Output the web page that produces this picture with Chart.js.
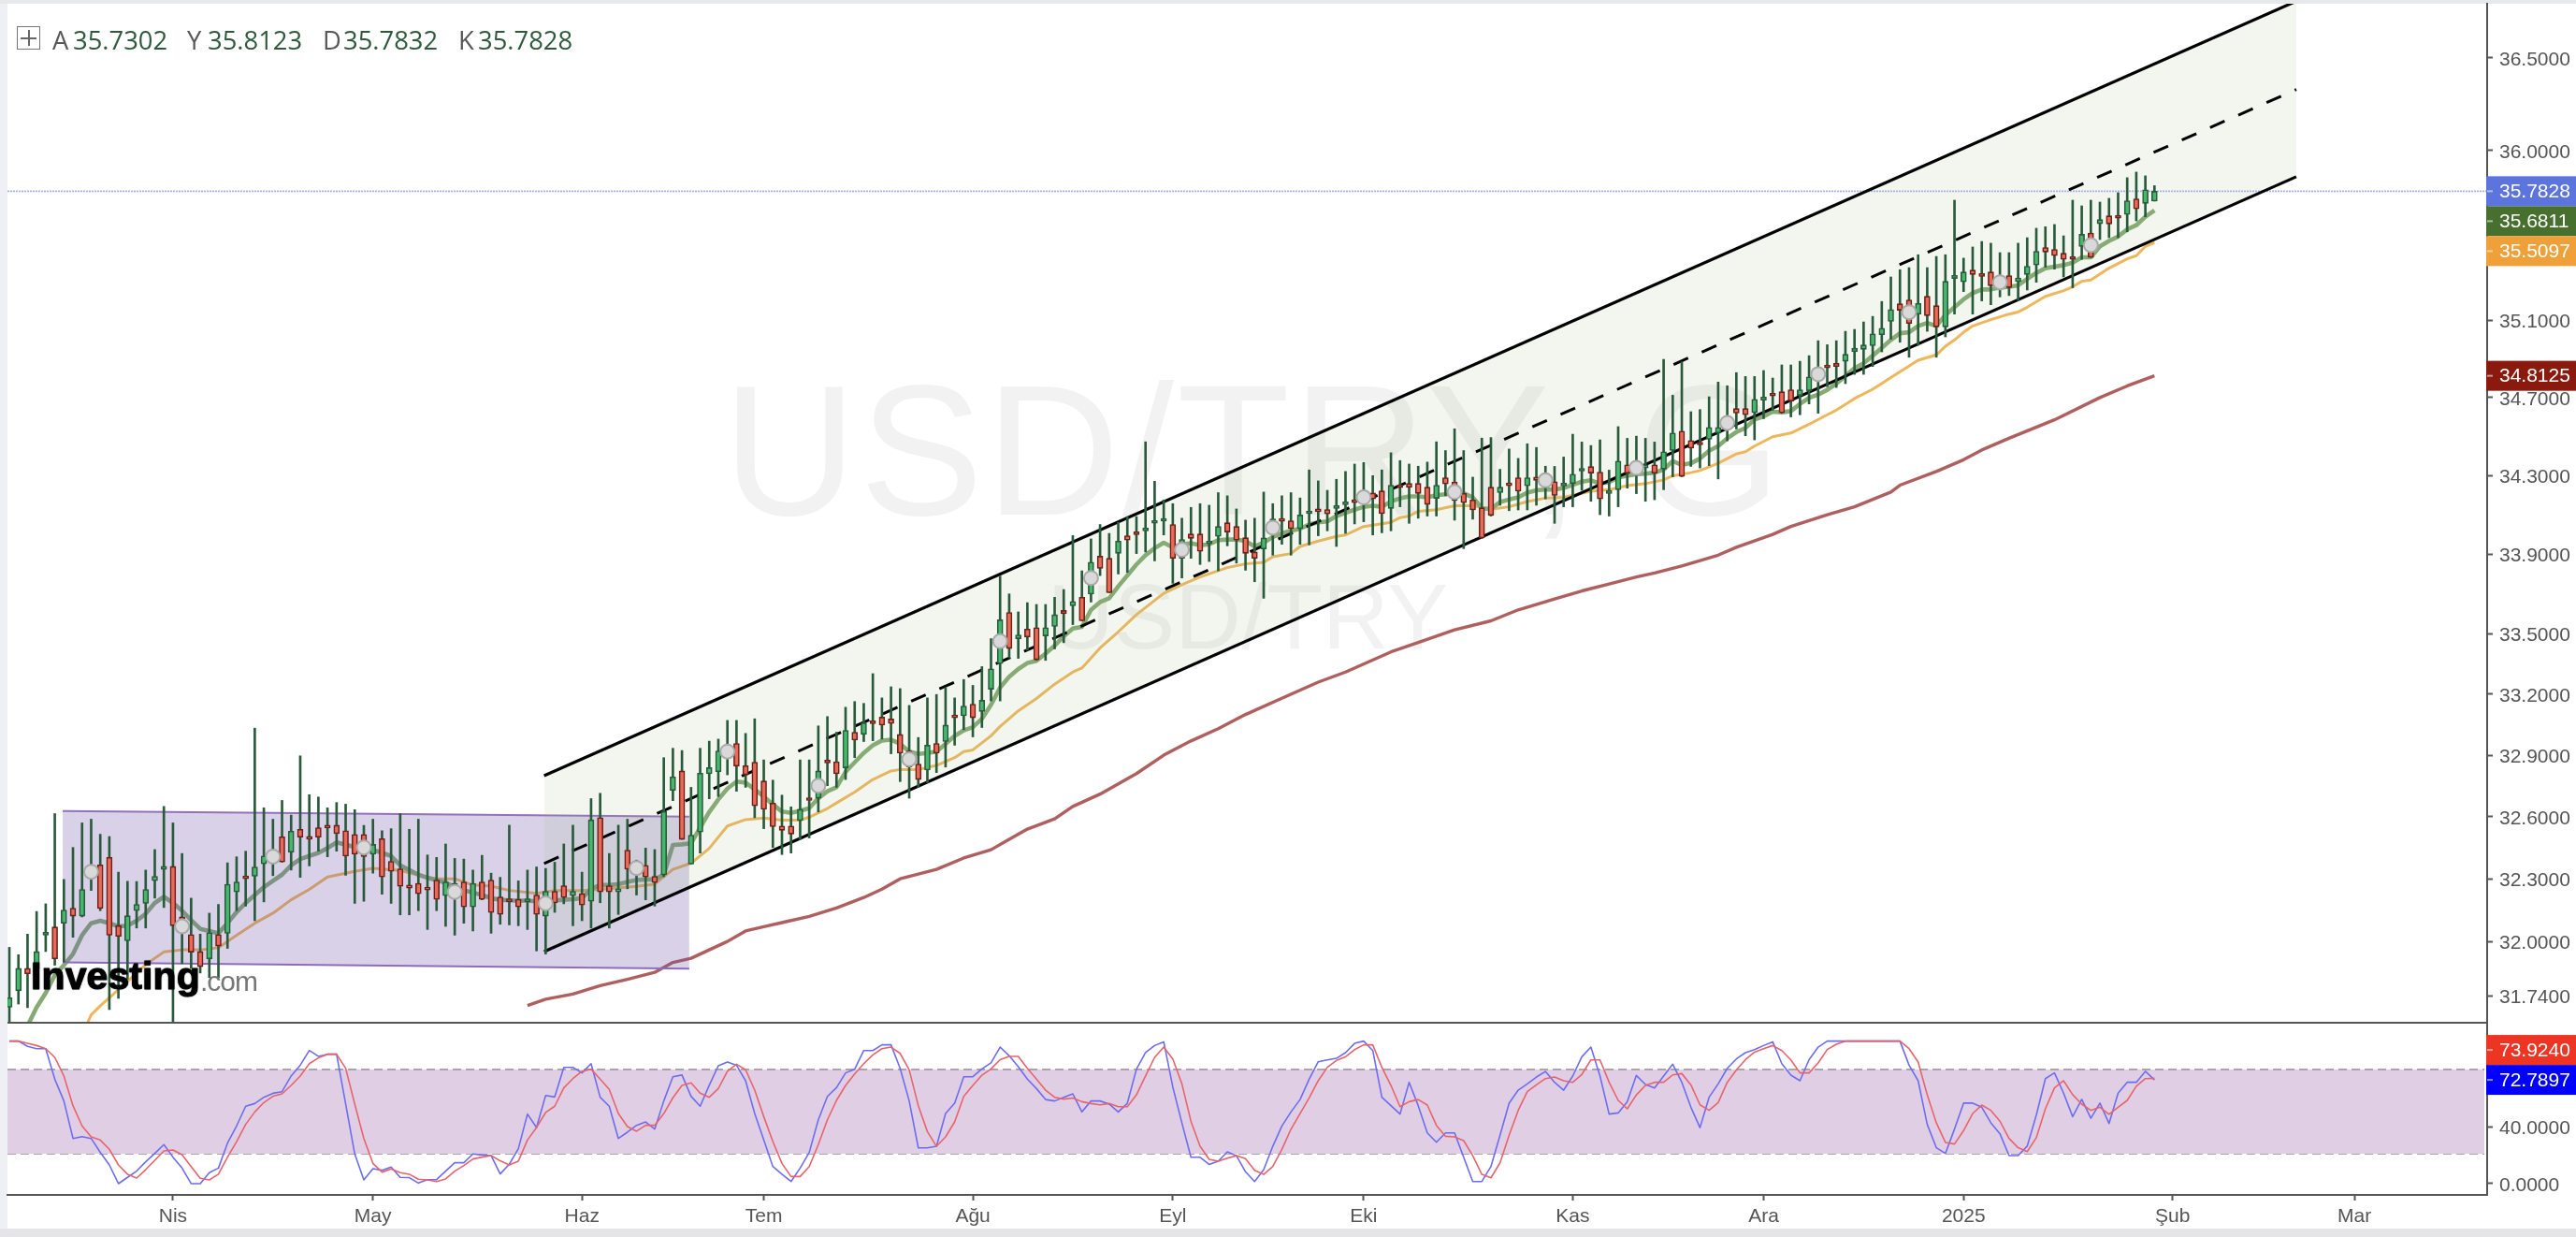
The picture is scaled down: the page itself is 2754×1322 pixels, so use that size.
<!DOCTYPE html>
<html><head><meta charset="utf-8">
<style>
html,body{margin:0;padding:0;width:2754px;height:1322px;background:#fff;overflow:hidden;font-family:"Liberation Sans",sans-serif}
.abs{position:absolute;white-space:pre;line-height:1}
canvas{position:absolute;left:0;display:block}
#wm1{left:773px;top:383px;font-size:198px;color:#f2f2f2;letter-spacing:3px}
#wm2{left:1120px;top:610px;font-size:98px;color:#f2f2f2}
.hd{font-family:"Open Sans",sans-serif;font-size:27.4px;top:29px}
.lt{color:#58585a}.nm{color:#2e5a3c}
#logo1{left:33px;top:1023px;font-size:41px;font-weight:bold;color:#000;letter-spacing:.1px;-webkit-text-stroke:1px #000;text-shadow:0 0 2px #000}
#logo2{left:214px;top:1034px;font-size:30px;color:#777;letter-spacing:-1px}
</style></head><body>
<div class="abs" style="left:0;top:0;width:8px;height:1322px;background:#eef0f5"></div>
<div class="abs" style="left:0;top:0;width:2754px;height:4px;background:#e6e8ea"></div>
<div class="abs" style="left:0;top:1313px;width:2754px;height:9px;background:#e5e5e7"></div>
<div class="abs" id="wm1">USD/TRY, G</div>
<div class="abs" id="wm2">USD/TRY</div>
<canvas id="main" width="2754" height="1093" style="top:0"></canvas>
<canvas id="osc" width="2754" height="220" style="top:1093px"></canvas>
<div class="abs" style="left:8px;top:1092px;width:2651px;height:2px;background:#555"></div>
<div class="abs" style="left:18px;top:28px;width:23px;height:23px;border:1.5px solid #777;box-sizing:content-box"><div style="position:absolute;left:11px;top:3px;width:1.5px;height:17px;background:#666"></div><div style="position:absolute;left:3px;top:11px;width:17px;height:1.5px;background:#666"></div></div>
<div class="abs hd lt" style="left:56px">A</div><div class="abs hd nm" style="left:78px">35.7302</div>
<div class="abs hd lt" style="left:200px">Y</div><div class="abs hd nm" style="left:222px">35.8123</div>
<div class="abs hd lt" style="left:345px">D</div><div class="abs hd nm" style="left:367px">35.7832</div>
<div class="abs hd lt" style="left:490px">K</div><div class="abs hd nm" style="left:511px">35.7828</div>
<div class="abs" id="logo1">Investing</div><div class="abs" id="logo2">.com</div>
<script src="https://cdn.jsdelivr.net/npm/chart.js@4/dist/chart.umd.min.js"></script>
<script>
const opens=[
31.688,31.766,31.872,31.872,32.030,32.069,32.087,32.159,32.121,32.305,
32.367,32.403,32.076,32.003,32.147,32.182,32.291,32.345,32.360,32.117,
32.033,31.952,31.917,32.033,32.039,32.237,32.312,32.312,32.372,32.384,
32.503,32.428,32.539,32.504,32.547,32.559,32.559,32.532,32.514,32.514,
32.418,32.494,32.384,32.348,32.270,32.278,32.260,32.294,32.219,32.207,
32.285,32.165,32.285,32.294,32.213,32.204,32.202,32.190,32.222,32.121,
32.240,32.267,32.219,32.229,32.192,32.596,32.267,32.237,32.438,32.320,
32.365,32.312,32.319,32.728,32.823,32.371,32.526,32.809,32.819,32.888,
32.958,32.849,32.866,32.774,32.666,32.555,32.555,32.581,32.685,32.690,
32.877,32.868,32.838,33.013,33.002,33.061,33.087,33.078,33.002,32.921,
32.857,32.827,32.958,32.967,33.089,33.094,33.151,33.115,33.225,33.352,
33.607,33.476,33.524,33.531,33.490,33.537,33.617,33.640,33.683,33.699,
33.890,33.879,33.904,33.993,34.002,34.018,34.056,34.067,34.050,33.879,
34.002,34.002,33.952,33.990,34.059,34.040,33.983,33.911,33.926,34.005,
34.080,34.069,34.029,34.105,34.126,34.126,34.132,34.151,34.175,34.164,
34.210,34.221,34.132,34.250,34.259,34.259,34.240,34.183,34.288,34.267,
34.208,34.175,34.135,34.240,34.212,34.259,34.288,34.247,34.291,34.243,
34.268,34.246,34.258,34.322,34.345,34.317,34.208,34.227,34.354,34.306,
34.338,34.354,34.332,34.427,34.527,34.479,34.461,34.485,34.517,34.543,
34.643,34.643,34.622,34.686,34.722,34.730,34.740,34.711,34.735,34.788,
34.858,34.877,34.888,34.938,34.950,34.969,35.026,35.096,35.188,35.208,
35.134,35.227,35.178,35.067,35.321,35.303,35.365,35.347,35.355,35.273,
35.336,35.304,35.342,35.392,35.484,35.474,35.454,35.436,35.490,35.561,
35.610,35.652,35.645,35.659,35.742,35.718,35.7302];
const highs=[
31.972,31.937,32.035,32.143,32.180,32.615,32.297,32.451,32.570,32.588,
32.515,32.504,32.332,32.288,32.287,32.342,32.441,32.650,32.570,32.422,
32.207,32.035,32.135,32.177,32.377,32.406,32.433,33.033,32.643,32.588,
32.679,32.608,32.897,32.707,32.696,32.643,32.669,32.661,32.634,32.558,
32.588,32.532,32.542,32.615,32.539,32.588,32.415,32.403,32.468,32.398,
32.395,32.342,32.413,32.327,32.307,32.559,32.290,32.342,32.357,32.350,
32.380,32.468,32.559,32.332,32.688,32.714,32.422,32.559,32.588,32.390,
32.448,32.441,32.888,32.934,32.923,32.743,32.934,32.969,32.979,33.071,
33.071,33.007,33.079,32.877,32.778,32.705,32.648,32.877,32.877,33.044,
33.090,33.013,33.136,33.164,33.155,33.302,33.182,33.237,33.228,33.145,
32.987,33.182,33.199,33.233,33.182,33.273,33.244,33.337,33.476,33.790,
33.700,33.610,33.656,33.647,33.647,33.683,33.722,33.994,33.816,33.977,
34.050,34.005,34.061,34.090,34.090,34.472,34.270,34.175,34.156,34.082,
34.137,34.156,34.148,34.212,34.196,34.129,34.072,34.082,34.215,34.156,
34.196,34.212,34.185,34.328,34.272,34.224,34.280,34.320,34.358,34.366,
34.299,34.328,34.416,34.376,34.358,34.347,34.368,34.472,34.427,34.539,
34.427,34.291,34.491,34.494,34.331,34.435,34.387,34.462,34.443,34.347,
34.346,34.394,34.511,34.471,34.453,34.482,34.327,34.550,34.490,34.501,
34.490,34.471,34.898,34.712,34.885,34.627,34.638,34.704,34.780,34.761,
34.829,34.809,34.809,34.840,34.801,34.869,34.869,34.888,34.917,34.995,
34.974,34.995,35.044,35.054,35.093,35.122,35.200,35.329,35.367,35.378,
35.446,35.378,35.437,35.446,35.735,35.428,35.487,35.516,35.507,35.457,
35.457,35.507,35.536,35.586,35.594,35.606,35.546,35.735,35.705,35.735,
35.725,35.745,35.775,35.855,35.885,35.865,35.8123];
const lows=[
31.617,31.703,31.686,31.828,31.952,31.887,31.902,32.020,32.117,32.244,
32.147,31.677,31.730,31.821,32.064,32.064,32.207,32.162,31.617,31.894,
31.872,31.850,31.828,31.828,31.967,32.147,32.169,32.099,32.189,32.315,
32.380,32.342,32.307,32.362,32.433,32.406,32.433,32.317,32.182,32.192,
32.327,32.226,32.182,32.127,32.127,32.147,32.057,32.147,32.072,32.030,
32.087,32.050,32.199,32.039,32.082,32.079,32.075,32.057,31.955,31.940,
32.139,32.180,32.075,32.099,32.064,32.185,32.064,32.129,32.252,32.222,
32.199,32.169,32.310,32.678,32.490,32.371,32.424,32.687,32.698,32.804,
32.724,32.743,32.595,32.542,32.451,32.417,32.424,32.490,32.497,32.623,
32.751,32.743,32.781,32.888,32.967,32.971,32.979,32.907,32.771,32.690,
32.743,32.766,32.815,32.842,32.949,33.025,32.990,33.036,33.167,33.167,
33.380,33.378,33.419,33.368,33.368,33.425,33.456,33.546,33.565,33.659,
33.792,33.706,33.800,33.808,33.903,33.911,33.866,33.997,33.753,33.780,
33.879,33.848,33.863,33.816,33.942,33.855,33.819,33.761,33.678,33.895,
33.950,33.895,33.950,33.947,33.993,34.018,33.939,34.005,34.053,34.064,
33.997,34.008,34.018,34.140,34.056,34.082,34.093,34.093,34.196,34.072,
33.928,34.077,33.979,34.093,34.148,34.120,34.124,34.124,34.148,34.180,
34.056,34.140,34.140,34.224,34.168,34.100,34.093,34.140,34.235,34.207,
34.168,34.176,34.227,34.293,34.293,34.346,34.338,34.350,34.282,34.477,
34.538,34.503,34.482,34.591,34.635,34.619,34.600,34.611,34.667,34.619,
34.756,34.752,34.772,34.820,34.820,34.861,34.937,35.003,34.987,34.909,
34.971,35.044,34.909,35.015,35.134,35.252,35.134,35.203,35.183,35.224,
35.231,35.206,35.260,35.301,35.380,35.370,35.329,35.272,35.421,35.432,
35.526,35.536,35.536,35.567,35.625,35.647,35.7302];
const closes=[
31.733,31.872,31.846,31.952,32.036,31.917,32.150,32.121,32.249,32.360,
32.157,32.030,32.024,32.123,32.177,32.249,32.312,32.360,32.075,32.042,
31.949,31.880,32.042,31.978,32.274,32.285,32.300,32.357,32.410,32.433,
32.381,32.530,32.501,32.491,32.501,32.545,32.518,32.409,32.418,32.407,
32.466,32.309,32.336,32.264,32.255,32.228,32.246,32.201,32.285,32.278,
32.165,32.278,32.201,32.138,32.129,32.190,32.165,32.204,32.129,32.240,
32.184,32.210,32.240,32.174,32.585,32.237,32.237,32.252,32.346,32.380,
32.309,32.282,32.625,32.794,32.490,32.511,32.812,32.839,32.921,32.949,
32.846,32.804,32.653,32.636,32.552,32.534,32.516,32.636,32.679,32.823,
32.862,32.809,33.022,32.974,33.059,33.055,33.048,33.056,32.910,32.842,
32.781,32.949,32.910,33.048,33.084,33.142,33.084,33.170,33.326,33.570,
33.427,33.495,33.484,33.371,33.531,33.596,33.601,33.662,33.565,33.860,
33.828,33.706,33.966,33.971,33.999,34.032,34.069,34.069,33.879,33.974,
33.980,33.914,33.957,34.040,34.012,33.971,33.904,33.879,33.982,34.078,
34.066,34.029,34.098,34.118,34.115,34.104,34.145,34.164,34.161,34.212,
34.180,34.105,34.250,34.237,34.239,34.208,34.152,34.250,34.256,34.172,
34.161,34.124,33.982,34.096,34.240,34.247,34.219,34.288,34.275,34.307,
34.198,34.258,34.306,34.335,34.312,34.180,34.222,34.373,34.311,34.370,
34.354,34.311,34.421,34.517,34.295,34.439,34.456,34.546,34.546,34.598,
34.620,34.611,34.691,34.703,34.708,34.621,34.682,34.740,34.807,34.853,
34.853,34.861,34.924,34.956,34.973,35.031,35.060,35.158,35.154,35.085,
35.190,35.126,35.067,35.306,35.337,35.355,35.342,35.332,35.283,35.334,
35.273,35.324,35.385,35.464,35.460,35.441,35.421,35.421,35.554,35.432,
35.632,35.609,35.639,35.732,35.689,35.791,35.7828];
const greenMA=[
null,null,31.6,31.688,31.755,31.84,31.887,31.94,32.03,32.087,
32.099,32.087,32.072,32.075,32.099,32.132,32.184,32.214,32.184,32.147,
32.102,32.06,32.05,32.039,32.087,32.14,32.184,32.222,32.26,32.29,
32.32,32.365,32.395,32.41,32.425,32.448,32.476,32.464,32.453,32.448,
32.44,32.425,32.41,32.365,32.342,32.32,32.305,32.293,32.282,32.26,
32.245,32.234,32.222,32.207,32.199,32.196,32.195,32.195,32.192,32.192,
32.196,32.199,32.202,32.207,32.252,32.27,32.27,32.274,32.285,32.294,
32.297,32.297,32.32,32.463,32.466,32.471,32.547,32.623,32.684,32.737,
32.771,32.766,32.733,32.698,32.66,32.625,32.619,32.629,32.641,32.69,
32.724,32.743,32.819,32.865,32.911,32.949,32.972,32.976,32.956,32.918,
32.906,32.911,32.918,32.956,32.995,33.022,33.038,33.079,33.148,33.233,
33.287,33.325,33.355,33.366,33.402,33.441,33.488,33.527,33.535,33.62,
33.659,33.678,33.738,33.793,33.848,33.895,33.93,33.958,33.934,33.95,
33.955,33.945,33.95,33.971,33.974,33.974,33.966,33.939,33.958,33.987,
34.005,34.018,34.029,34.05,34.061,34.066,34.093,34.109,34.125,34.14,
34.145,34.14,34.167,34.183,34.193,34.193,34.188,34.199,34.204,34.207,
34.209,34.188,34.132,34.129,34.164,34.177,34.188,34.212,34.224,34.228,
34.228,34.236,34.252,34.268,34.275,34.258,34.266,34.29,34.298,34.306,
34.309,34.314,34.33,34.373,34.354,34.362,34.386,34.426,34.45,34.49,
34.522,34.543,34.587,34.603,34.627,34.624,34.63,34.667,34.699,34.715,
34.74,34.772,34.812,34.852,34.877,34.917,34.958,34.999,35.034,35.039,
35.072,35.088,35.072,35.129,35.17,35.211,35.244,35.263,35.263,35.273,
35.277,35.285,35.318,35.35,35.375,35.383,35.391,35.404,35.432,35.432,
35.49,35.519,35.542,35.58,35.602,35.647,35.6811];
const orangeMA=[[8,31.56],[9,31.652],[10,31.695],[11,31.733],[13,31.81],[15,31.89],[17,31.95],[19,31.96],[21,31.96],[23,31.97],[25,32.03],[27,32.087],[29,32.135],[31,32.199],[33,32.249],[35,32.309],[38,32.336],[40,32.35],[43,32.34],[45,32.317],[47,32.30],[49,32.30],[51,32.27],[53,32.265],[55,32.244],[58,32.23],[60,32.244],[63,32.244],[66,32.252],[69,32.264],[71,32.274],[73,32.345],[75,32.375],[77,32.447],[79,32.555],[81,32.586],[83,32.594],[85,32.583],[87,32.583],[88,32.598],[90,32.64],[91,32.667],[93,32.72],[95,32.781],[97,32.823],[98,32.83],[100,32.83],[102,32.85],[104,32.888],[105,32.918],[106,32.926],[108,32.995],[109,33.041],[111,33.118],[113,33.179],[115,33.25],[117,33.31],[118,33.33],[120,33.43],[122,33.51],[124,33.596],[127,33.703],[129,33.746],[131,33.785],[134,33.832],[136,33.851],[138,33.859],[139,33.887],[141,33.903],[142,33.939],[144,33.966],[146,33.99],[147,33.997],[149,34.04],[152,34.061],[153,34.085],[154,34.093],[155,34.117],[157,34.125],[159,34.145],[161,34.145],[163,34.128],[165,34.14],[167,34.167],[169,34.184],[171,34.188],[174,34.219],[176,34.227],[178,34.248],[180,34.258],[182,34.277],[183,34.298],[185,34.314],[186,34.325],[188,34.362],[189,34.386],[190,34.41],[191,34.421],[192,34.45],[194,34.498],[196,34.517],[198,34.562],[200,34.611],[201,34.635],[203,34.695],[205,34.743],[207,34.804],[210,34.893],[212,34.921],[213,34.966],[214,34.999],[215,35.039],[216,35.072],[218,35.105],[220,35.134],[221,35.145],[222,35.17],[224,35.227],[226,35.257],[227,35.277],[228,35.306],[229,35.313],[231,35.375],[233,35.424],[234,35.441],[235,35.49],[236,35.5097]];
const redMA=[[57,31.696],[59,31.726],[62,31.75],[65,31.79],[68,31.82],[71,31.853],[73,31.90],[75,31.92],[77,31.96],[79,32.0],[81,32.05],[83,32.07],[85,32.09],[88,32.12],[91,32.16],[94,32.21],[96,32.25],[98,32.30],[102,32.345],[105,32.40],[108,32.44],[110,32.49],[112,32.54],[115,32.59],[117,32.65],[120,32.71],[124,32.81],[127,32.90],[130,32.97],[133,33.03],[136,33.10],[140,33.18],[144,33.26],[147,33.31],[152,33.41],[155,33.457],[159,33.52],[163,33.565],[166,33.62],[170,33.675],[173,33.715],[176,33.75],[179,33.785],[181,33.805],[184,33.84],[188,33.895],[190,33.935],[194,34.0],[196,34.04],[200,34.10],[203,34.14],[207,34.215],[208,34.25],[212,34.32],[215,34.38],[217,34.43],[220,34.49],[225,34.585],[230,34.70],[233,34.76],[236,34.8125]];
const markerIdx=[9,19,29,39,49,59,69,79,89,99,109,119,129,139,149,159,169,179,189,199,209,219,229];
const markerVal=[32.334,32.072,32.407,32.451,32.237,32.182,32.352,32.918,32.751,32.880,33.463,33.780,33.922,34.034,34.188,34.215,34.275,34.338,34.569,34.821,35.144,35.301,35.497];
const stochK=[
100,100,96.3,94.7,94.7,73.3,58,31.7,33,31.7,
22,13.1,0,4.4,8.8,15.3,21.2,27.4,18.6,10.9,
0,0,7.7,10.9,28.4,40.5,54.3,56.2,60.6,63.4,
64.5,75.5,83.1,93.4,89.3,90.8,90.8,55.8,20.8,2.6,
10.5,9.4,11.6,4.4,4.2,0.4,2.8,2.8,8.8,14.7,
14.7,20.8,20.1,19.7,6.8,13.6,24.5,48.8,39.4,61.9,
60.8,81.6,81.6,77.7,84.2,60.6,54.3,31.7,36.1,40.9,
43.3,38.3,58,75,76.2,61.3,54.3,69,82.7,85.3,
83.1,72.2,49.2,30.6,12,6.6,1.5,10.9,21.9,44.8,
61.2,67.4,77.7,80.3,93.4,93.4,97.4,97.4,80.9,58,
25.1,25.1,26.2,49.2,56.4,75,75,80.5,84.7,95.8,
89.7,82,73.3,66.7,59,58,60.6,63,50.3,58,
58,55.8,50.3,56.4,80.3,91.9,96.9,99.5,67.8,42.6,
18.5,18.5,13.5,15.7,22.3,19.6,8.3,1.5,9.8,26.2,
40.4,50.3,59,73.3,85.5,86.8,87.9,91.9,98.4,100,
93.4,60.6,54.7,48.8,71.1,54.7,35.6,29,35.6,35.6,
18.5,1.5,1.5,12,33.9,56.4,65.6,70,74.8,78.7,
71.1,65.6,75.5,89,95.8,75.5,48.8,49.6,57.5,75.9,
69.6,67.1,75.5,83.8,71.1,53.6,39.3,60.6,70,80.9,
87.5,91.9,94,96.9,99.5,84.2,76.1,72.2,87,95.8,
100,100,100,100,100,100,100,100,100,83.1,
72.2,41.6,25.2,21.2,38.3,56.5,56.5,53.6,42.7,35,
19.7,19.7,26.3,48.1,73.7,77.7,63.5,47,59.1,45.9,
56.5,42.2,63.5,71.1,71.1,78.8,72.7897];
const stochD=[
100,100,98.5,96.9,94.7,88.6,75.5,54.7,40.5,32.8,
30.6,24.1,13.1,6.6,3.9,9.8,16.4,23,23.6,20.3,
12,3.7,2.6,6.6,18.6,29.5,41.6,50.3,56.9,61.3,
63,68.9,75.5,84.2,88.2,90.8,90.8,81,55.8,31.7,
14.2,8.1,10.3,7.7,6.6,3.1,2.6,1.5,3.3,8.8,
12.7,17.3,18.6,19.7,16,13.1,15.8,30.6,39.4,49.9,
54.3,67.2,73.7,78.8,80.3,73.3,66.1,49.2,40,36.8,
40.9,40.9,49.2,60.2,68.9,70.7,63.5,60.6,66.7,78.8,
83.8,79.9,65.6,47,29.5,14.2,5,5,12,27.4,
44.8,58.4,68.9,77,84.2,90.3,94.7,95.8,91.4,79.8,
54.7,36.5,26.2,32.8,43.3,61.2,68.9,76.1,80.5,87,
89.3,89.3,80.9,73.3,65.6,60.6,59.3,60.1,57.5,56.2,
55.3,56.2,54,54,62.3,75.5,88.6,95.8,87.5,70,
43.7,26.2,17,15.7,17.9,19.6,17.5,9.4,6.5,12,
24,38.2,49.2,60.1,72.2,81.6,86.4,89,94,97.4,
97.4,81.6,68.9,54,57.5,59,55.1,40.9,33.2,32.8,
30.2,19.6,6.5,4.1,14.6,33.9,51.4,64.5,69.3,73.7,
74.8,72.2,71.1,76.6,86.8,86.8,71.1,58.4,52.5,62.3,
68.9,71.1,71.1,76.3,77.2,69.3,55.3,51.4,56.9,71.1,
79.8,87,92.3,94.7,96.9,93.4,86.8,77.7,77.7,84.7,
94.1,97.8,100,100,100,100,100,100,100,94.7,
85.3,62.4,42.7,28.9,27.8,37.2,49.2,55.1,51.4,43.8,
31.7,25.2,22.5,32.2,52.5,67.2,72.2,62.4,55.8,51.4,
53.6,48.6,53.6,58.4,68.3,73.7,73.924];
const priceTicks=[36.5,36,35.1,34.7,34.3,33.9,33.5,33.2,32.9,32.6,32.3,32,31.74];
const oscTicks=[0,40];
const monthIdx=[18,40,63,83,106,128,149,172,193,215,238,258];
const monthLabels=["Nis","May","Haz","Tem","Ağu","Eyl","Eki","Kas","Ara","2025","Şub","Mar"];
const channelX=[58.83,251.6];
const channelUpper=[32.80,36.81];
const channelMid=[32.374,36.329];
const channelLower=[31.952,35.860];
const boxX=[5.87,74.8];
const boxTop=[32.628,32.600];
const boxBottom=[31.901,31.871];
const lastPrice=35.7828;
const priceTags=[[35.7828,"#5b74de"],[35.6811,"#47702e"],[35.5097,"#f0a038"],[34.8125,"#8b1a0e"]];
const oscTags=[[72.7897,"#0000ff"],[73.9240,"#ee3524"]];
const bandX=[-0.2,272.3];
const bandTop=80, bandBottom=21;
const priceMin=31.615, priceMax=36.796;

const X_MIN=-0.206, X_MAX=272.6;
const AXIS='#555', TXT='#555';
const FONT={family:'"Liberation Sans",sans-serif',size:21};
const pts=(xs,ys)=>xs.map((x,i)=>({x,y:ys[i]}));
const line=(data,extra)=>Object.assign({type:'line',data,pointRadius:0,pointHoverRadius:0,tension:0,fill:false,spanGaps:true,borderJoinStyle:'round',borderCapStyle:'butt'},extra);
const idx=opens.map((_,i)=>i);
const up=idx.map(i=>closes[i]>=opens[i]);

function tagPlugin(tags,dir){return{id:'tags',afterDraw(c){
  const g=c.ctx,s=c.scales.y,h=32,L=c.chartArea.right;
  let prev=null;
  tags.forEach(([v,col])=>{
    let y=s.getPixelForValue(v);
    if(prev!==null){ y = dir>0 ? Math.max(y,prev+h) : Math.min(y,prev-h); }
    prev=y;
    g.save();
    g.fillStyle=col;g.fillRect(L-1,y-h/2,c.width-L+1,h);
    g.fillStyle='rgba(255,255,255,.55)';g.fillRect(L,y-1,6,2);
    g.fillStyle='#fff';g.font='21px "Liberation Sans",sans-serif';g.textBaseline='middle';g.textAlign='left';
    g.fillText(v.toFixed(4),L+13,y+1);
    g.restore();
  });
}}}

const yScaleBase={position:'right',
  afterFit(s){s.width=95;s.paddingTop=0;s.paddingBottom=0;
    if(!s._shifted){s._shifted=true;const orig=s._computeLabelItems;
      s._computeLabelItems=function(a){const items=orig.call(this,a);items.forEach(it=>{it.options.translation=[it.options.translation[0],it.options.translation[1]+2];});return items;};}},
  border:{display:true,color:AXIS,width:2},
  grid:{drawOnChartArea:false,drawTicks:true,tickLength:6,tickColor:AXIS,tickWidth:2},
  ticks:{font:FONT,color:TXT,padding:7,autoSkip:false,maxRotation:0,callback:v=>Number(v).toFixed(4)}};

new Chart(document.getElementById('main'),{
 type:'line',
 data:{datasets:[
  line(pts(idx,greenMA),{borderColor:'#86aa74',borderWidth:4.6,order:30}),
  line(orangeMA.map(p=>({x:p[0],y:p[1]})),{borderColor:'#efb75c',borderWidth:3,order:31}),
  line(redMA.map(p=>({x:p[0],y:p[1]})),{borderColor:'#b05f5f',borderWidth:3.4,order:32}),
  line(pts([X_MIN,X_MAX],[lastPrice,lastPrice]),{borderColor:'#a4b3ee',borderWidth:1.6,borderDash:[2,1],order:26}),
  line(pts(channelX,channelUpper),{borderColor:'#000',borderWidth:3.2,order:22,fill:{target:6},backgroundColor:'rgba(150,180,120,.12)'}),
  line(pts(channelX,channelMid),{borderColor:'#000',borderWidth:3,borderDash:[17,16],order:21}),
  line(pts(channelX,channelLower),{borderColor:'#000',borderWidth:3.2,order:21}),
  line(pts(boxX,boxTop),{borderColor:'#9470bd',borderWidth:2,order:24,fill:{target:8},backgroundColor:'rgba(110,85,170,.27)'}),
  line(pts(boxX,boxBottom),{borderColor:'#9470bd',borderWidth:2,order:24}),
  {type:'bar',data:idx.map(i=>({x:i,y:[lows[i],highs[i]]})),backgroundColor:'#2a5a3c',borderWidth:0,barThickness:2,grouped:false,order:11},
  {type:'bar',data:idx.map(i=>({x:i,y:[Math.min(opens[i],closes[i]),Math.max(opens[i],closes[i])]})),
   backgroundColor:idx.map(i=>up[i]?'#45b86b':'#ea6a57'),borderColor:idx.map(i=>up[i]?'#2a5a3c':'#6b2018'),
   borderWidth:1.6,borderSkipped:false,barThickness:6,grouped:false,minBarLength:3,order:10},
  {type:'line',data:pts(markerIdx,markerVal),showLine:false,pointRadius:7.5,pointBorderWidth:2,pointBackgroundColor:'#d9d9d9',pointBorderColor:'#a9a9a9',order:5}
 ]},
 options:{responsive:false,animation:false,devicePixelRatio:1,
  layout:{autoPadding:false,padding:{left:8,top:4,right:0,bottom:0}},
  plugins:{legend:{display:false},tooltip:{enabled:false}},events:[],
  scales:{
   x:{type:'linear',display:false,min:X_MIN,max:X_MAX,bounds:'data',offset:false,grid:{offset:false}},
   y:Object.assign({},yScaleBase,{type:'logarithmic',min:priceMin,max:priceMax,bounds:'data',
     afterBuildTicks(s){s.ticks=priceTicks.map(v=>({value:v}));}})
  }},
 plugins:[tagPlugin(priceTags,1)]
});

new Chart(document.getElementById('osc'),{
 type:'line',
 data:{datasets:[
  line(pts(bandX,[bandTop,bandTop]),{borderColor:'#ada2ae',borderWidth:2,borderDash:[9,5],order:20,fill:{target:1},backgroundColor:'#e0cfe4'}),
  line(pts(bandX,[bandBottom,bandBottom]),{borderColor:'#ada2ae',borderWidth:2,borderDash:[9,5],order:20}),
  line(pts(idx,stochK),{borderColor:'#6c6cf0',borderWidth:1.6,order:6}),
  line(pts(idx,stochD),{borderColor:'#e8636a',borderWidth:1.6,order:5})
 ]},
 options:{responsive:false,animation:false,devicePixelRatio:1,
  layout:{autoPadding:false,padding:{left:8,top:0,right:0,bottom:0}},
  plugins:{legend:{display:false},tooltip:{enabled:false}},events:[],
  scales:{
   x:{type:'linear',min:X_MIN,max:X_MAX,bounds:'data',offset:false,position:'bottom',
     afterBuildTicks(s){s.ticks=monthIdx.map(v=>({value:v}));},
     afterFit(s){s.height=36;s.paddingLeft=0;s.paddingRight=0;},
     border:{display:true,color:AXIS,width:2},
     grid:{offset:false,drawOnChartArea:false,drawTicks:true,tickLength:6,tickColor:AXIS,tickWidth:2},
     ticks:{font:FONT,color:TXT,padding:5,autoSkip:false,maxRotation:0,callback:(v,i)=>monthLabels[i]}},
   y:Object.assign({},yScaleBase,{type:'linear',min:-7.9,max:112.9,bounds:'data',
     afterBuildTicks(s){s.ticks=oscTicks.map(v=>({value:v}));}})
  }},
 plugins:[tagPlugin(oscTags,-1)]
});
</script>
</body></html>
